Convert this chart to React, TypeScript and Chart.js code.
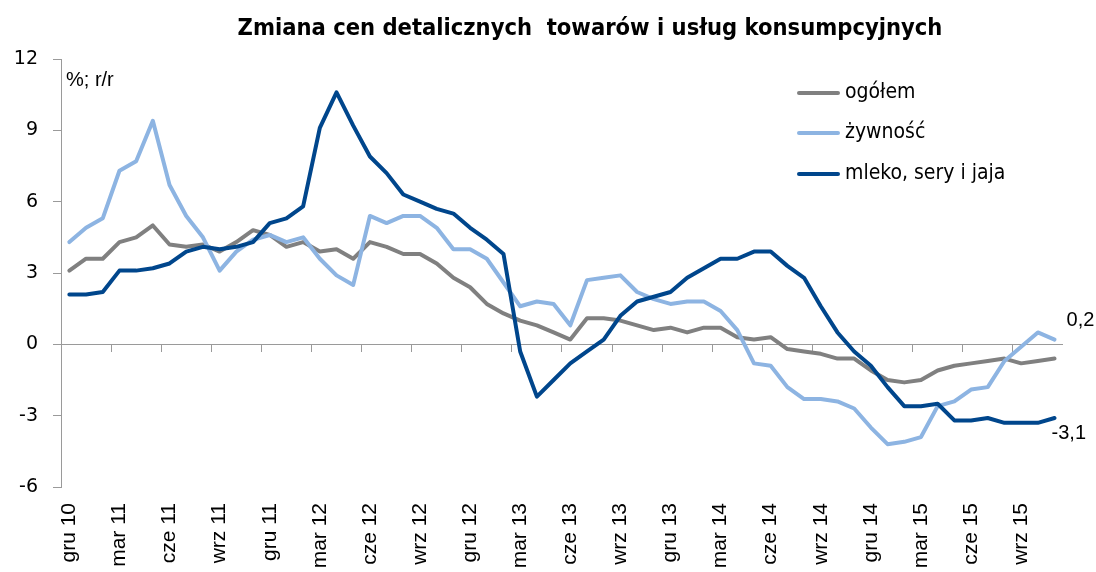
import React, { useEffect, useRef } from "react";
import { Chart, registerables } from "chart.js";

Chart.register(...registerables);

const categories = [
  "gru 10", "sty 11", "lut 11", "mar 11", "kwi 11", "maj 11", "cze 11", "lip 11", "sie 11", "wrz 11", "paź 11", "lis 11",
  "gru 11", "sty 12", "lut 12", "mar 12", "kwi 12", "maj 12", "cze 12", "lip 12", "sie 12", "wrz 12", "paź 12", "lis 12",
  "gru 12", "sty 13", "lut 13", "mar 13", "kwi 13", "maj 13", "cze 13", "lip 13", "sie 13", "wrz 13", "paź 13", "lis 13",
  "gru 13", "sty 14", "lut 14", "mar 14", "kwi 14", "maj 14", "cze 14", "lip 14", "sie 14", "wrz 14", "paź 14", "lis 14",
  "gru 14", "sty 15", "lut 15", "mar 15", "kwi 15", "maj 15", "cze 15", "lip 15", "sie 15", "wrz 15", "paź 15", "lis 15",
];

const ogolem = [
  3.1, 3.6, 3.6, 4.3, 4.5, 5.0, 4.2, 4.1, 4.2, 3.9,
  4.3, 4.8, 4.6, 4.1, 4.3, 3.9, 4.0, 3.6, 4.3, 4.1,
  3.8, 3.8, 3.4, 2.8, 2.4, 1.7, 1.3, 1.0, 0.8, 0.5,
  0.2, 1.1, 1.1, 1.0, 0.8, 0.6, 0.7, 0.5, 0.7, 0.7,
  0.3, 0.2, 0.3, -0.2, -0.3, -0.4, -0.6, -0.6, -1.1, -1.5,
  -1.6, -1.5, -1.1, -0.9, -0.8, -0.7, -0.6, -0.8, -0.7, -0.6,
];

const zywnosc = [
  4.3, 4.9, 5.3, 7.3, 7.7, 9.4, 6.7, 5.4, 4.5, 3.1,
  3.9, 4.4, 4.6, 4.3, 4.5, 3.6, 2.9, 2.5, 5.4, 5.1,
  5.4, 5.4, 4.9, 4.0, 4.0, 3.6, 2.6, 1.6, 1.8, 1.7,
  0.8, 2.7, 2.8, 2.9, 2.2, 1.9, 1.7, 1.8, 1.8, 1.4,
  0.6, -0.8, -0.9, -1.8, -2.3, -2.3, -2.4, -2.7, -3.5, -4.2,
  -4.1, -3.9, -2.6, -2.4, -1.9, -1.8, -0.7, -0.1, 0.5, 0.2,
];

const mleko = [
  2.1, 2.1, 2.2, 3.1, 3.1, 3.2, 3.4, 3.9, 4.1, 4.0,
  4.1, 4.3, 5.1, 5.3, 5.8, 9.1, 10.6, 9.2, 7.9, 7.2,
  6.3, 6.0, 5.7, 5.5, 4.9, 4.4, 3.8, -0.3, -2.2, -1.5,
  -0.8, -0.3, 0.2, 1.2, 1.8, 2.0, 2.2, 2.8, 3.2, 3.6,
  3.6, 3.9, 3.9, 3.3, 2.8, 1.6, 0.5, -0.3, -0.9, -1.8,
  -2.6, -2.6, -2.5, -3.2, -3.2, -3.1, -3.3, -3.3, -3.3, -3.1,
];

const seriesNames = ["ogółem", "żywność", "mleko, sery i jaja"];
const seriesColors = ["#808080", "#8DB4E2", "#00468C"];

const title = "Zmiana cen detalicznych  towarów i usług konsumpcyjnych";
const unitLabel = "%; r/r";
const yMin = -6;
const yMax = 12;
const yStep = 3;
const tickEvery = 3;

const AXIS_COLOR = "#9a9a9a";

const decorPlugin = {
  id: "decor",
  afterDraw(chart: any) {
    const ctx = chart.ctx;
    ctx.save();
    // title
    ctx.fillStyle = "#000";
    ctx.font = "bold 23.5px 'DejaVu Sans Condensed', 'DejaVu Sans', sans-serif";
    ctx.textAlign = "center";
    ctx.textBaseline = "middle";
    ctx.fillText(title, 590, 29);

    // unit label
    ctx.font = "20px 'Liberation Sans', Arial, sans-serif";
    ctx.textAlign = "left";
    ctx.fillText(unitLabel, 66, 80);

    // legend
    ctx.font = "21px 'DejaVu Sans Condensed', 'DejaVu Sans', sans-serif";
    const ds = chart.data.datasets;
    const legendYs = [93, 133, 174];
    for (let i = 0; i < ds.length; i++) {
      const y = legendYs[i];
      ctx.strokeStyle = ds[i].borderColor;
      ctx.lineWidth = 4;
      ctx.lineCap = "round";
      ctx.beginPath();
      ctx.moveTo(799, y);
      ctx.lineTo(838, y);
      ctx.stroke();
      ctx.fillStyle = "#000";
      ctx.fillText(ds[i].label, 845, y);
    }

    // data labels on last points
    ctx.font = "20px 'Liberation Sans', Arial, sans-serif";
    const fmt = (v: number) => String(v).replace(".", ",");
    const labelSpecs = [
      { ds: 1, dx: 12, dy: -19 },
      { ds: 2, dx: -3, dy: 15 },
    ];
    for (const s of labelSpecs) {
      const meta = chart.getDatasetMeta(s.ds);
      const pts = meta.data;
      const last = pts[pts.length - 1];
      const data = chart.data.datasets[s.ds].data;
      const v = data[data.length - 1];
      ctx.fillStyle = "#000";
      ctx.textAlign = "left";
      ctx.fillText(fmt(v), last.x + s.dx, last.y + s.dy);
    }
    ctx.restore();
  },
};

export default function App() {
  const ref = useRef<HTMLCanvasElement | null>(null);

  useEffect(() => {
    if (!ref.current) return;
    const values = [ogolem, zywnosc, mleko];
    const orders = [2, 1, 0];
    const chart = new Chart(ref.current, {
      type: "line",
      data: {
        labels: categories,
        datasets: values.map((d, i) => ({
          label: seriesNames[i],
          data: d,
          borderColor: seriesColors[i],
          backgroundColor: seriesColors[i],
          borderWidth: 4,
          pointRadius: 0,
          pointHoverRadius: 0,
          tension: 0,
          borderJoinStyle: "round" as const,
          borderCapStyle: "round" as const,
          fill: false,
          order: orders[i],
        })),
      },
      options: {
        responsive: false,
        animation: false,
        events: [],
        layout: { padding: { top: 59, right: 30, left: 0, bottom: 0 } },
        plugins: {
          legend: { display: false },
          tooltip: { enabled: false },
          title: { display: false },
        },
        scales: {
          x: {
            type: "category",
            axis: "x",
            position: { y: 0 } as any,
            offset: true,
            grid: {
              offset: true,
              drawOnChartArea: false,
              drawTicks: true,
              tickLength: 7,
              lineWidth: 1,
              tickWidth: 1,
              tickColor: (c: any) => (c.index % tickEvery === 0 ? AXIS_COLOR : "rgba(0,0,0,0)"),
              color: "rgba(0,0,0,0)",
            },
            border: { display: true, color: AXIS_COLOR, width: 1 },
            ticks: { display: false, autoSkip: false },
          },
          xl: {
            type: "category",
            axis: "x",
            position: "bottom",
            offset: true,
            grid: { display: false, drawTicks: false },
            border: { display: false },
            afterFit: (s: any) => {
              s.height = 85;
            },
            ticks: {
              autoSkip: false,
              minRotation: 90,
              maxRotation: 90,
              padding: 16,
              color: "#000",
              font: { family: "'Liberation Sans', Arial, sans-serif", size: 21 },
              callback: (_v: any, i: number) => (i % tickEvery === 0 ? categories[i] : ""),
            },
          },
          y: {
            type: "linear",
            min: yMin,
            max: yMax,
            afterFit: (s: any) => {
              s.width = 61;
            },
            grid: {
              drawOnChartArea: false,
              drawTicks: true,
              tickLength: 8,
              tickColor: AXIS_COLOR,
              color: AXIS_COLOR,
            },
            border: { display: true, color: AXIS_COLOR, width: 1 },
            ticks: {
              stepSize: yStep,
              padding: 15,
              color: "#000",
              font: { family: "'DejaVu Sans', Verdana, sans-serif", size: 19 },
            },
          },
        },
      },
      plugins: [decorPlugin],
    });
    return () => chart.destroy();
  }, []);

  return (
    <div style={{ position: "absolute", left: 0, top: 0, width: 1096, height: 572, background: "#fff" }}>
      <canvas ref={ref} width={1096} height={572} style={{ display: "block" }} />
    </div>
  );
}
